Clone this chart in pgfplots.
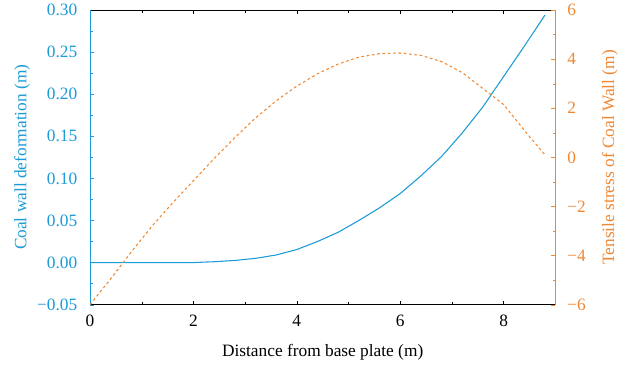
\documentclass[border=0pt]{standalone}
\usepackage{fontspec}
\setmainfont{Liberation Serif}
\usepackage{pgfplots}
\pgfplotsset{compat=1.18}
\definecolor{blueC}{RGB}{27,155,215}
\definecolor{orangeC}{RGB}{240,135,50}
\begin{document}
\fontsize{13}{15}\selectfont
\begin{tikzpicture}
\begin{axis}[
  at={(0,0)}, anchor=south west,
  scale only axis, width=349pt, height=221pt,
  xmin=0, xmax=9, ymin=-0.05, ymax=0.30,
  axis x line=box, axis y line*=left,
  x axis line style={-, draw=black},
  y axis line style={-, draw=blueC},
  xtick={0,2,4,6,8}, minor x tick num=1,
  ytick={-0.05,0,0.05,0.10,0.15,0.20,0.25,0.30}, minor y tick num=1,
  yticklabels={−0.05,0.00,0.05,0.10,0.15,0.20,0.25,0.30},
  tick align=inside,
  major tick length=3pt, minor tick length=2pt,
  y tick style={blueC}, x tick style={black},
  yticklabel style={blueC, xshift=-5pt},
  xticklabel style={yshift=-3.5pt},
  /pgf/number format/assume math mode=true,
  ylabel={Coal wall deformation (m)},
  every axis y label/.style={at={(axis description cs:-0.146,0.5)}, rotate=90, anchor=center, text=blueC},
  xlabel={Distance from base plate (m)},
  every axis x label/.style={at={(axis description cs:0.5,-0.160)}, anchor=center},
  tick label style={font=\fontsize{13}{15}\selectfont},
  label style={font=\fontsize{13}{15}\selectfont},
]
\addplot[blueC, line width=0.8pt] coordinates {
(0,0) (0.4,0) (0.8,0) (1.2,0) (1.6,0) (2.0,0) (2.4,0.001) (2.8,0.0025) (3.2,0.005)
(3.6,0.009) (4.0,0.0155) (4.4,0.025) (4.8,0.036) (5.2,0.05) (5.6,0.065) (6.0,0.082)
(6.4,0.103) (6.8,0.126) (7.2,0.154) (7.6,0.185) (8.0,0.221) (8.4,0.257) (8.8,0.294)
};
\end{axis}
\begin{axis}[
  at={(0,0)}, anchor=south west,
  scale only axis, width=349pt, height=221pt,
  xmin=0, xmax=9, ymin=-6, ymax=6,
  axis x line=none, axis y line*=right,
  y axis line style={-, draw=orangeC},
  ytick={-6,-4,-2,0,2,4,6}, minor y tick num=1,
  yticklabels={−6,−4,−2,0,2,4,6},
  tick align=inside,
  major tick length=3pt, minor tick length=2pt,
  y tick style={orangeC},
  yticklabel style={orangeC, xshift=4.5pt},
  /pgf/number format/assume math mode=true,
  ylabel={Tensile stress of Coal Wall (m)},
  every axis y label/.style={at={(axis description cs:1.117,0.5)}, rotate=90, anchor=center, text=orangeC},
  tick label style={font=\fontsize{13}{15}\selectfont},
  label style={font=\fontsize{13}{15}\selectfont},
]
\addplot[orangeC, line width=0.8pt, dash pattern=on 2pt off 2pt] coordinates {
(0,-6) (0.4,-4.95) (0.8,-3.85) (1.2,-2.8) (1.6,-1.85) (2.0,-0.95) (2.4,-0.05)
(2.8,0.8) (3.2,1.6) (3.6,2.3) (4.0,2.9) (4.4,3.4) (4.8,3.8) (5.2,4.08) (5.6,4.22)
(6.0,4.25) (6.4,4.15) (6.8,3.9) (7.2,3.45) (7.6,2.8) (8.0,2.15) (8.4,1.1) (8.8,0.1)
};
\end{axis}
\pgfresetboundingbox
\path[use as bounding box] (-67.5pt,-47.6pt) rectangle (407.25pt,228.5pt);
\end{tikzpicture}
\end{document}
